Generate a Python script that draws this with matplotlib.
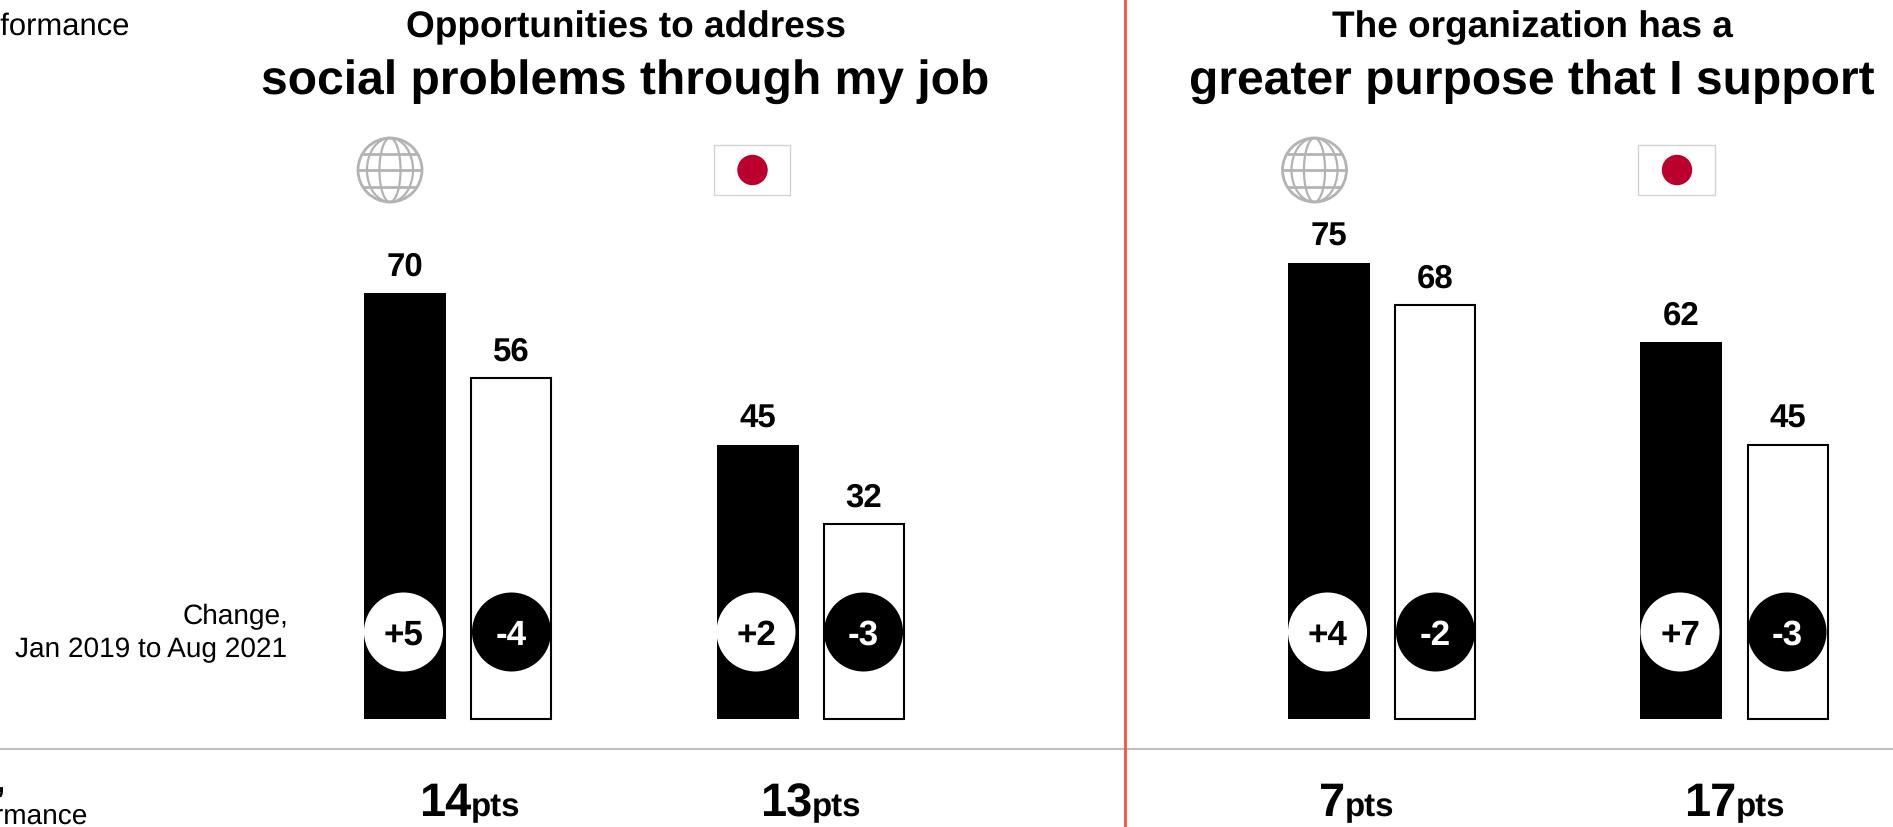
import matplotlib.pyplot as plt
from matplotlib.patches import Circle, Ellipse, Rectangle
import numpy as np

plt.rcParams['font.family'] = ['Liberation Sans', 'DejaVu Sans']
plt.rcParams['text.hinting'] = 'no_hinting'
plt.rcParams['text.hinting_factor'] = 1

# Values of each bar, left to right
black_values = [70, 45, 75, 62]
white_values = [56, 32, 68, 45]
black_changes = ['+5', '+2', '+4', '+7']
white_changes = ['-4', '-3', '-2', '-3']
gap_values = ['14', '13', '7', '17']

# Bar positions in pixels
black_x = [404.5, 757.5, 1328.5, 1681]
white_x = [511, 864, 1435, 1787.5]
circle_black_x = [403.5, 756, 1327.5, 1680]
circle_white_x = [511.5, 863.5, 1435.5, 1787]
gap_x = [471, 812, 1345, 1736]

W, H = 1893, 828
BASE_Y = 719.5
PX_PER_UNIT = 6.08

fig = plt.figure(figsize=(W / 100, H / 100), dpi=100, facecolor='white')

# Axes for the bars, y is in score units
ax = fig.add_axes([0, 0, 1, 1])
ax.set_xlim(0, W)
ax.set_ylim(-(H - BASE_Y) / PX_PER_UNIT, BASE_Y / PX_PER_UNIT)
ax.axis('off')

# Axes in pixels for everything else
over = fig.add_axes([0, 0, 1, 1])
over.set_xlim(0, W)
over.set_ylim(H, 0)
over.axis('off')
over.patch.set_alpha(0)

ax.bar(black_x, black_values, width=82, color='black', linewidth=0)
ax.bar(white_x, white_values, width=80, color='white', edgecolor='black', linewidth=1.5)

for x, v in zip(black_x + white_x, black_values + white_values):
    ax.text(x, v + 3, str(v), ha='center', va='baseline', fontsize=24, fontweight='bold')


def change_badge(x, label, fill, ink):
    over.add_patch(Circle((x, 633), 39.5, facecolor=fill, edgecolor='none', zorder=3))
    over.text(x, 645, label, ha='center', va='baseline', fontsize=25.5,
              fontweight='bold', color=ink, zorder=4)


for x, label in zip(circle_black_x, black_changes):
    change_badge(x, label, 'white', 'black')
for x, label in zip(circle_white_x, white_changes):
    change_badge(x, label, 'black', 'white')


def globe(cx, cy, r=32):
    grey = '#b3b3b3'
    over.add_patch(Circle((cx, cy), r, fill=False, edgecolor=grey, linewidth=2))
    for frac in [0.33, 0.72]:
        over.add_patch(Ellipse((cx, cy), 2 * r * frac, 2 * r, fill=False,
                               edgecolor=grey, linewidth=1.6))
    for dy in [-16, 0, 16.5]:
        half = np.sqrt(r ** 2 - dy ** 2)
        over.plot([cx - half, cx + half], [cy + dy, cy + dy], color=grey, linewidth=2,
                  solid_capstyle='butt')


def flag(x0, x1, y0, y1, cx, cy):
    over.add_patch(Rectangle((x0, y0), x1 - x0, y1 - y0, facecolor='white',
                             edgecolor='#d4d4d4', linewidth=1))
    over.add_patch(Circle((cx, cy), 15.2, facecolor='#bc002d', edgecolor='none'))


globe(390, 171)
globe(1314.5, 171)
flag(713.5, 790, 145.5, 195.5, 752.5, 171)
flag(1637.5, 1714.5, 146, 195.5, 1677, 171)

# Panel titles
over.text(625.5, 37.5, 'Opportunities to address', ha='center', va='baseline',
          fontsize=26.7, fontweight='bold')
over.text(625.5, 94, 'social problems through my job', ha='center', va='baseline',
          fontsize=34.5, fontweight='bold')
over.text(1532, 37.5, 'The organization has a', ha='center', va='baseline',
          fontsize=26.7, fontweight='bold')
over.text(1532, 94, 'greater purpose that I support', ha='center', va='baseline',
          fontsize=34.5, fontweight='bold')

# Row captions on the left, the long ones run off the edge
over.text(130, 35, 'Performance', ha='right', va='baseline', fontsize=22.5)
over.text(288, 624, 'Change,', ha='right', va='baseline', fontsize=20)
over.text(287, 657, 'Jan 2019 to Aug 2021', ha='right', va='baseline', fontsize=20.2)
over.text(5, 793, ',', ha='right', va='baseline', fontsize=24, fontweight='bold')
over.text(88.5, 824, 'Performance', ha='right', va='baseline', fontsize=20)

# Gap totals under the rule
for x, gap in zip(gap_x, gap_values):
    over.text(x, 816.5, gap, ha='right', va='baseline', fontsize=33.5, fontweight='bold')
    over.text(x, 816.5, 'pts', ha='left', va='baseline', fontsize=24, fontweight='bold')

# Rule across the bottom and panel divider
over.plot([0, W], [749.5, 749.5], color='#bfbfbf', linewidth=1.5)
over.plot([1125, 1125], [0, H], color='#f4533f', linewidth=2)

fig.savefig('out.png', dpi=100)
